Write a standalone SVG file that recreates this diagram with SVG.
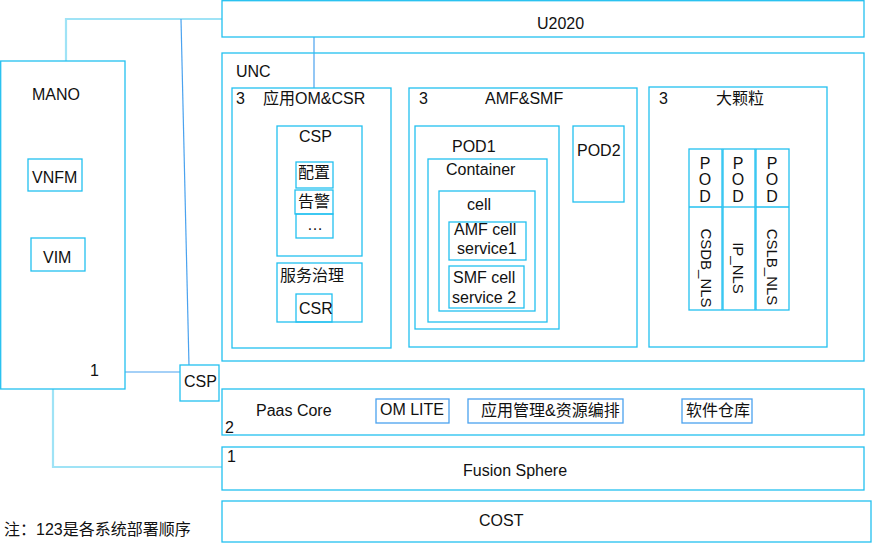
<svg xmlns="http://www.w3.org/2000/svg" width="872" height="543" viewBox="0 0 872 543">
<style>
.b{fill:#fff;stroke:#22c0f0;stroke-width:1.3}
.n{fill:none;stroke:#22c0f0;stroke-width:1.3}
.b2{fill:#fff;stroke:#4aa2ef;stroke-width:1.3}
text{font-family:"Liberation Sans","Noto Sans CJK SC",sans-serif;font-size:16px;fill:#111}
.r{font-size:15px}
.c1{fill:none;stroke:#9fe3f6;stroke-width:2.2}
.c2{fill:none;stroke:#4aa2ef;stroke-width:1.2}
</style>
<rect width="872" height="543" fill="#fff"/>
<g id="connectors">
<polyline class="c1" points="222,19 66,19 66,61"/>
<polyline class="c1" points="53,389 53,467 222,467"/>
<line class="c2" x1="181" y1="19" x2="189" y2="366"/>
<line class="c2" x1="314" y1="37" x2="314" y2="88"/>
<line class="c2" x1="125" y1="372" x2="180" y2="372"/>
</g>
<g id="u2020"><rect class="b" x="222" y="0.7" width="642" height="36.3"/><text x="537" y="29">U2020</text></g>
<g id="unc"><rect class="n" x="222" y="53" width="642" height="308"/><text x="236" y="77">UNC</text></g>
<g id="om-csr"><rect class="n" x="232" y="88" width="159" height="260"/><text x="236" y="104">3</text><text x="263" y="104">应用OM&amp;CSR</text></g>
<g id="csp-box"><rect class="n" x="277" y="126" width="85" height="130"/><text x="299" y="142">CSP</text></g>
<g id="peizhi"><rect class="n" x="296" y="162" width="37" height="26"/><text x="298" y="178">配置</text></g>
<g id="gaojing"><rect class="n" x="295" y="190" width="38" height="24"/><text x="298" y="207">告警</text></g>
<g id="more"><rect class="n" x="296" y="214" width="37" height="24"/><text x="307" y="230">…</text></g>
<g id="fuwu"><rect class="n" x="277" y="263" width="85" height="59"/><text x="280" y="281">服务治理</text></g>
<g id="csr"><rect class="n" x="296" y="294" width="36" height="28"/><text x="299" y="314">CSR</text></g>
<g id="amf-smf"><rect class="n" x="409" y="88" width="228" height="259"/><text x="419" y="104">3</text><text x="485" y="104">AMF&amp;SMF</text></g>
<g id="pod1"><rect class="n" x="415" y="126" width="144" height="203"/><text x="452" y="152">POD1</text></g>
<g id="container"><rect class="n" x="428" y="159" width="119" height="163"/><text x="446" y="175">Container</text></g>
<g id="cell"><rect class="n" x="439" y="191" width="96" height="120"/><text x="467" y="210">cell</text></g>
<g id="amf-cell"><rect class="n" x="449" y="222" width="77" height="38"/><text x="454" y="235">AMF cell</text><text x="457" y="254">service1</text></g>
<g id="smf-cell"><rect class="n" x="449" y="266" width="75" height="42"/><text x="453" y="283">SMF cell</text><text x="452" y="303">service 2</text></g>
<g id="pod2"><rect class="n" x="573" y="126" width="51" height="76"/><text x="577" y="156">POD2</text></g>
<g id="dakeli"><rect class="n" x="649" y="87" width="178" height="260"/><text x="659" y="104">3</text><text x="716" y="104">大颗粒</text></g>
<g id="pod-csdb"><rect class="n" x="689" y="149" width="33" height="161"/><line class="n" x1="689" y1="207" x2="722" y2="207"/>
<text x="705" y="169" text-anchor="middle">P</text><text x="705" y="185" text-anchor="middle">O</text><text x="705" y="202" text-anchor="middle">D</text>
<text class="r" transform="translate(701,268) rotate(90)" text-anchor="middle">CSDB_NLS</text></g>
<g id="pod-ip"><rect class="n" x="723" y="149" width="32" height="161"/><line class="n" x1="723" y1="207" x2="755" y2="207"/>
<text x="738" y="169" text-anchor="middle">P</text><text x="738" y="185" text-anchor="middle">O</text><text x="738" y="202" text-anchor="middle">D</text>
<text class="r" transform="translate(733,268) rotate(90)" text-anchor="middle">IP_NLS</text></g>
<g id="pod-cslb"><rect class="n" x="756" y="149" width="33" height="161"/><line class="n" x1="756" y1="207" x2="789" y2="207"/>
<text x="772" y="169" text-anchor="middle">P</text><text x="772" y="185" text-anchor="middle">O</text><text x="772" y="202" text-anchor="middle">D</text>
<text class="r" transform="translate(767,267) rotate(90)" text-anchor="middle">CSLB_NLS</text></g>
<g id="mano"><rect class="b" x="0.7" y="61" width="124.3" height="328"/><text x="32" y="100">MANO</text><text x="90" y="376">1</text></g>
<g id="vnfm"><rect class="n" x="28" y="159" width="54" height="32"/><text x="32" y="183">VNFM</text></g>
<g id="vim"><rect class="n" x="31" y="238" width="54" height="33"/><text x="43" y="263">VIM</text></g>
<g id="csp-small"><rect class="b" x="180" y="365" width="39" height="36"/><text x="184" y="387">CSP</text></g>
<g id="paas"><rect class="n" x="222" y="389" width="642" height="46"/><text x="256" y="416">Paas Core</text><text x="225" y="433">2</text></g>
<g id="omlite"><rect class="b2" x="376" y="399" width="73" height="24"/><text x="380" y="415">OM LITE</text></g>
<g id="yingyong"><rect class="b2" x="468" y="399" width="155" height="24"/><text x="481" y="416">应用管理&amp;资源编排</text></g>
<g id="ruanjian"><rect class="b2" x="682" y="399" width="70" height="24"/><text x="686" y="416">软件仓库</text></g>
<g id="fusion"><rect class="n" x="222" y="447" width="642" height="43"/><text x="227" y="462">1</text><text x="463" y="476">Fusion Sphere</text></g>
<g id="cost"><rect class="n" x="222" y="501" width="649" height="41"/><text x="479" y="526">COST</text></g>
<g id="note"><text x="4" y="535">注：123是各系统部署顺序</text></g>
</svg>
